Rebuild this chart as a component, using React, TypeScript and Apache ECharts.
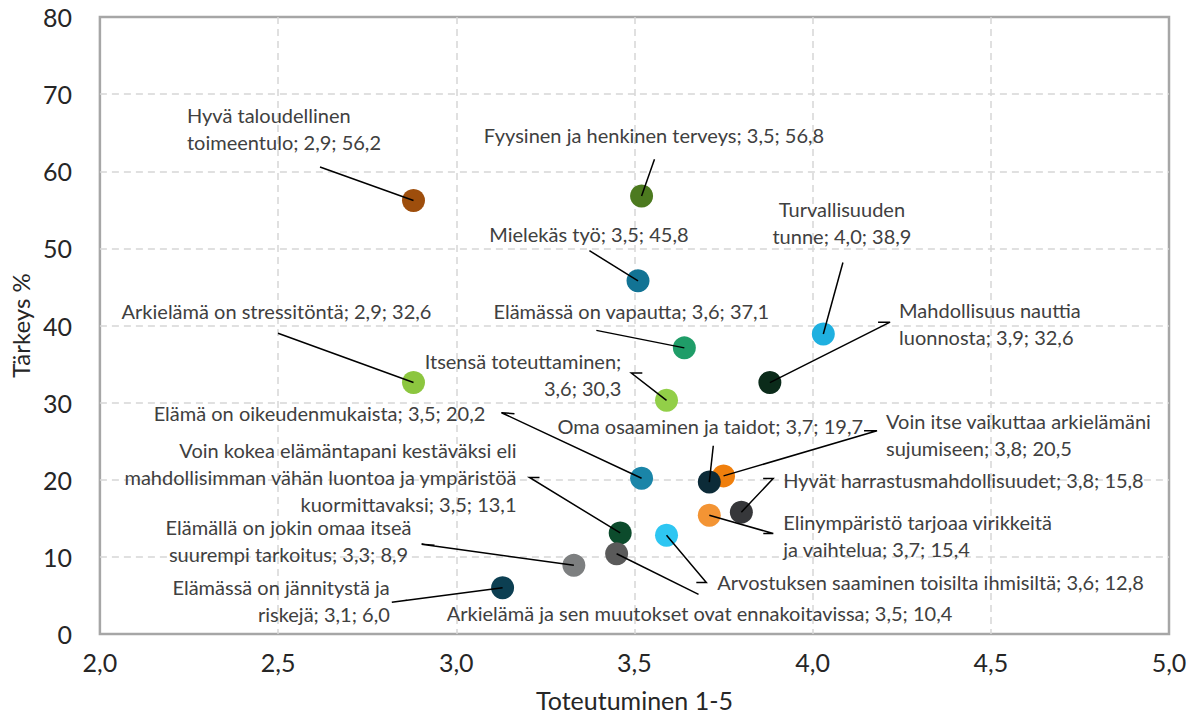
import React, { useEffect, useRef } from "react";
import * as echarts from "echarts";

// ---- data ----
const categories: string[] = [
  "Hyvä taloudellinen\ntoimeentulo",
  "Fyysinen ja henkinen terveys",
  "Mielekäs työ",
  "Turvallisuuden\ntunne",
  "Elämässä on vapautta",
  "Mahdollisuus nauttia\nluonnosta",
  "Arkielämä on stressitöntä",
  "Itsensä toteuttaminen",
  "Elämä on oikeudenmukaista",
  "Voin itse vaikuttaa arkielämäni\nsujumiseen",
  "Oma osaaminen ja taidot",
  "Hyvät harrastusmahdollisuudet",
  "Elinympäristö tarjoaa virikkeitä\nja vaihtelua",
  "Voin kokea elämäntapani kestäväksi eli\nmahdollisimman vähän luontoa ja ympäristöä\nkuormittavaksi",
  "Arvostuksen saaminen toisilta ihmisiltä",
  "Arkielämä ja sen muutokset ovat ennakoitavissa",
  "Elämällä on jokin omaa itseä\nsuurempi tarkoitus",
  "Elämässä on jännitystä ja\nriskejä",
];
const toteutuminen: number[] = [
  2.88, 3.52, 3.51, 4.03, 3.64, 3.88, 2.88, 3.59, 3.52, 3.75, 3.71, 3.8, 3.71, 3.46, 3.59, 3.45, 3.33, 3.13,
];
const tarkeys: number[] = [
  56.2, 56.8, 45.8, 38.9, 37.1, 32.6, 32.6, 30.3, 20.2, 20.5, 19.7, 15.8, 15.4, 13.1, 12.8, 10.4, 8.9, 6.0,
];
const xTicks = { min: 2, max: 5, step: 0.5 };
const yTicks = { min: 0, max: 80, step: 10 };

// ---- styles ----
const pointColors: string[] = [
  "#9e4e0c", "#4c7a1f", "#127394", "#1fb0e0", "#1f9d68", "#0b2b1a", "#8cc63f", "#92cf48", "#1a85a8",
  "#f07f0c", "#0c2b38", "#36373a", "#f39434", "#0c4b2c", "#2ec6f2", "#5a5a5a", "#7d7f80", "#0c3f52",
];
// label anchor offset (px from point), alignment, break after name, leader line points (px from point)
type Lay = { dx: number; dy: number; align: string; brk?: boolean; line: number[][] };
const layouts: Lay[] = [
  { dx: -226.5, dy: -72, align: "left", line: [[-93.5, -33.5]] },
  { dx: 12.4, dy: -60.8, align: "center", line: [[12.9, -36.8]] },
  { dx: -49.1, dy: -47.1, align: "center", line: [[-48.6, -30.1]] },
  { dx: 18.6, dy: -111, align: "center", line: [[19.6, -71.5]] },
  { dx: -53, dy: -36.5, align: "center", line: [[-88, -17.5]] },
  { dx: 129.2, dy: -58.9, align: "left", line: [[120.2, -60.4], [108.2, -60.4]] },
  { dx: -137, dy: -71.4, align: "center", line: [[-135.5, -49.4]] },
  { dx: -45.2, dy: -25.7, align: "right", brk: true, line: [[-35.2, -27.2], [-24.2, -27.2]] },
  { dx: -322.1, dy: -65.5, align: "center", line: [[-140.1, -65.5], [-127.1, -64.5]] },
  { dx: 162.5, dy: -41.6, align: "left", line: [[153.5, -45.1], [140.5, -45.1]] },
  { dx: 1, dy: -56.3, align: "center", line: [[4, -36.3]] },
  { dx: 41.8, dy: -32.6, align: "left", line: [[31.8, -33.6], [21.8, -33.6]] },
  { dx: 74, dy: 20.3, align: "left", line: [[64, 18.3], [54, 18.3]] },
  { dx: -103.7, dy: -55.5, align: "right", line: [[-90.7, -55.5], [-80.7, -55.5]] },
  { dx: 50.8, dy: 47.2, align: "left", line: [[39.8, 47.2], [29.8, 47.2]] },
  { dx: 82.9, dy: 59.6, align: "center", line: [[81.9, 40.6]] },
  { dx: -285.3, dy: -24.5, align: "center", line: [[-152.3, -21], [-139.3, -20]] },
  { dx: -112.8, dy: 13, align: "right", line: [[-110.8, 14.5], [-95.8, 12.5]] },
];

const FONT = "Lato, 'Noto Sans', sans-serif";
const fmt1 = (v: number) => (Math.round(v * 10 + 1e-6) / 10).toFixed(1).replace(".", ",");

export default function App() {
  const ref = useRef<HTMLDivElement>(null);
  useEffect(() => {
    if (!ref.current) return;
    const chart = echarts.init(ref.current, null, { renderer: "svg" });
    const points = toteutuminen.map((x, i) => [x, tarkeys[i]]);
    chart.setOption({
      animation: false,
      backgroundColor: "#ffffff",
      grid: {
        left: 97,
        top: 17,
        width: 1072,
        height: 620,
        show: true,
        borderColor: "#a6a6a6",
        borderWidth: 2.5,
        backgroundColor: "transparent",
      },
      xAxis: {
        type: "value",
        min: xTicks.min,
        max: xTicks.max,
        interval: xTicks.step,
        name: "Toteutuminen 1-5",
        nameLocation: "middle",
        nameGap: 53,
        nameTextStyle: { fontFamily: FONT, fontSize: 25, color: "#262626" },
        axisLine: { show: false },
        axisTick: { show: false },
        axisLabel: {
          margin: 15,
          fontFamily: FONT,
          fontSize: 25,
          color: "#262626",
          formatter: (v: number) => v.toFixed(1).replace(".", ","),
        },
        splitLine: {
          show: true,
          showMinLine: false,
          showMaxLine: false,
          lineStyle: { color: "#d6d6d6", type: [7, 5], width: 1.5 },
        },
      },
      yAxis: {
        type: "value",
        min: yTicks.min,
        max: yTicks.max,
        interval: yTicks.step,
        name: "Tärkeys %",
        nameLocation: "middle",
        nameGap: 64,
        nameTextStyle: { fontFamily: FONT, fontSize: 24, color: "#262626" },
        axisLine: { show: false },
        axisTick: { show: false },
        axisLabel: {
          margin: 28,
          fontFamily: FONT,
          fontSize: 25,
          color: "#262626",
          formatter: (v: number) => String(v),
        },
        splitLine: {
          show: true,
          showMinLine: false,
          showMaxLine: false,
          lineStyle: { color: "#d6d6d6", type: [7, 5], width: 1.5 },
        },
      },
      series: [
        {
          type: "scatter",
          symbol: "circle",
          symbolSize: 23,
          z: 2,
          data: points.map((p, i) => ({ value: p, itemStyle: { color: pointColors[i], opacity: 1 } })),
        },
        {
          type: "custom",
          z: 3,
          data: points,
          encode: { x: 0, y: 1 },
          renderItem: (params: any, api: any) => {
            const i = params.dataIndex;
            const x = api.value(0);
            const y = api.value(1);
            const c = api.coord([x, y]);
            const L = layouts[i];
            const sep = L.brk ? ";\n" : "; ";
            const text = `${categories[i]}${sep}${fmt1(x)}; ${fmt1(y)}`;
            const pts = [[c[0], c[1]], ...L.line.map((o) => [c[0] + o[0], c[1] + o[1]])];
            return {
              type: "group",
              children: [
                {
                  type: "polyline",
                  shape: { points: pts },
                  style: { stroke: "#000000", lineWidth: 1.5, fill: null },
                },
                {
                  type: "text",
                  x: c[0] + L.dx,
                  y: c[1] + L.dy,
                  style: {
                    text,
                    fill: "#404040",
                    fontFamily: FONT,
                    fontSize: 20,
                    lineHeight: 27,
                    align: L.align,
                    verticalAlign: "middle",
                  },
                },
              ],
            };
          },
        },
      ],
    });
    return () => chart.dispose();
  }, []);
  return (
    <div
      ref={ref}
      style={{ position: "fixed", left: 0, top: 0, width: 1195, height: 717, background: "#fff" }}
    />
  );
}
